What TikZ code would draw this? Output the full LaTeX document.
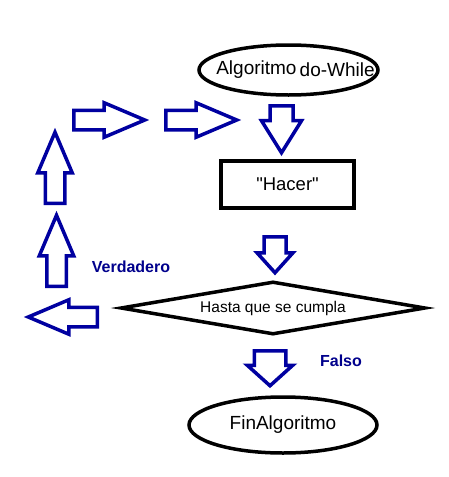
\documentclass[tikz,border=0pt]{standalone}
\usepackage{fontspec}
\setmainfont{Liberation Sans}[Ligatures=TeXOff]
\usepackage{xcolor}
\usepackage{tikz}
\usetikzlibrary{shapes.geometric, shapes.arrows}
\definecolor{azul}{RGB}{0,0,160}
\definecolor{azulos}{RGB}{0,0,140}

\begin{document}
\begin{tikzpicture}[
  x=1pt, y=-1pt,
  extremo/.style={ellipse, draw=black, line width=3.5pt, fill=white,
                  inner sep=0pt, font=\fontsize{19}{21}\selectfont},
  caja/.style={rectangle, draw=black, line width=3.5pt, fill=white,
               minimum width=133pt, minimum height=47pt,
               font=\fontsize{18.5}{20}\selectfont},
  decision/.style={diamond, draw=black, line width=3.5pt, fill=white, aspect=5.3,
                   minimum width=305pt, minimum height=53pt, inner sep=0pt,
                   font=\fontsize{15.5}{17}\selectfont},
  bloque/.style={single arrow, draw=azul, line width=3.5pt, fill=white,
                 inner xsep=0pt, anchor=tail},
  lazo/.style={bloque, inner ysep=8pt, single arrow head extend=7.5pt,
               single arrow tip angle=46, minimum height=71pt},
  etiqueta/.style={font=\fontsize{16}{18}\selectfont\bfseries, text=azulos}
]
\useasboundingbox (0,0) rectangle (448,477);

% ---- Cuerpo del do-While ----
\node[extremo, minimum width=179pt, minimum height=50pt] (inicio) at (288.5,70)
  {\makebox[110pt]{\hspace{14pt}Algoritmo\,\raisebox{-2pt}{do-While}}};
\node[caja] (hacer) at (287.5,184.5) {"Hacer"};
\node[decision] (cond) at (273,308) {Hasta que se cumpla};
\node[extremo, minimum width=188pt, minimum height=56pt] (fin) at (283,425) {FinAlgoritmo};

% ---- Flechas hacia abajo ----
\node[bloque, rotate=-90, inner ysep=9.75pt, single arrow head extend=8.5pt,
      single arrow tip angle=64, minimum height=47pt] (f1) at (281.5,104) {};
\node[bloque, rotate=-90, inner ysep=9.25pt, single arrow head extend=7pt,
      single arrow tip angle=84, minimum height=36pt] (f2) at (275,235) {};
\node[bloque, rotate=-90, inner ysep=14pt, single arrow head extend=7pt,
      single arrow tip angle=96, minimum height=35pt] (f3) at (270,349) {};

% ---- Regreso (Verdadero) ----
\node[lazo, rotate=180, minimum height=69pt] (f4) at (99,317) {};
\node[lazo, rotate=90] (f5) at (56.5,288) {};
\node[lazo, rotate=90] (f6) at (55,205) {};
\node[lazo] (f7) at (72,120) {};
\node[lazo] (f8) at (164,120) {};

\node[etiqueta] (verdadero) at (131,267) {Verdadero};
\node[etiqueta] (falso) at (341,361) {Falso};
\end{tikzpicture}
\end{document}
